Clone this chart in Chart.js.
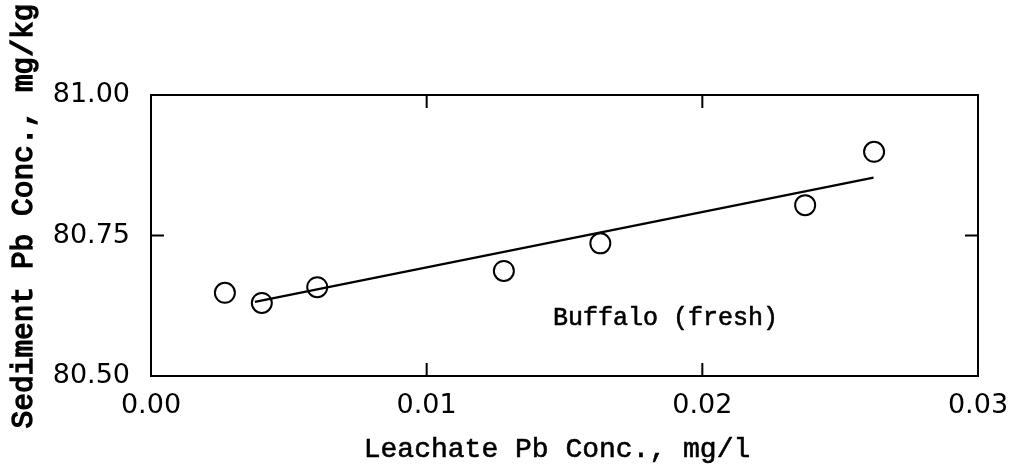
<!DOCTYPE html>
<html>
<head>
<meta charset="utf-8">
<script src="https://cdn.jsdelivr.net/npm/chart.js@4"></script>
<style>
  body { margin: 0; background: #fff; }
  canvas { display: block; }
</style>
</head>
<body>
<canvas id="pbChart" width="1013" height="466"></canvas>
<script>
//-----------------------------------------------------------------------------
// data
//-----------------------------------------------------------------------------
const leachateConc = [0.00268, 0.00402, 0.00603, 0.0128, 0.0163, 0.02373, 0.02623];   // mg/l
const sedimentConc = [80.648, 80.630, 80.658, 80.687, 80.736, 80.804, 80.899];        // mg/kg
const fitX = [0.00377, 0.02621];       // regression line ends
const fitY = [80.632, 80.853];
const xTicks = [0.00, 0.01, 0.02, 0.03];
const yTicks = [80.50, 80.75, 81.00];
const xTitle = "Leachate Pb Conc., mg/l";
const yTitle = "Sediment Pb Conc., mg/kg";
const siteLabel = "Buffalo (fresh)";

const tickFont = { family: "DejaVu Sans", size: 27 };
const monoFont = "Liberation Mono";

//-----------------------------------------------------------------------------
// text with a bit of extra weight (the scanned typewriter font is heavier)
//-----------------------------------------------------------------------------
function heavyText(ctx, txt, x, y, weight){
    ctx.fillText(txt, x, y);
    ctx.lineWidth = weight;
    ctx.strokeText(txt, x, y);
}
//-----------------------------------------------------------------------------
// frame + inward ticks + titles
//-----------------------------------------------------------------------------
const framePlugin = {
    id: "frame",
    afterDraw(chart) {
        const { ctx, chartArea: a, scales: { x, y } } = chart;
        ctx.save();
        ctx.strokeStyle = "#000";
        ctx.lineWidth = 2;
        ctx.strokeRect(a.left, a.top, a.right - a.left, a.bottom - a.top);

        const len = 13;
        ctx.beginPath();
        xTicks.slice(1, -1).forEach(v => {          // skip the ends, they sit on the frame
            const px = x.getPixelForValue(v);
            ctx.moveTo(px, a.bottom); ctx.lineTo(px, a.bottom - len);
            ctx.moveTo(px, a.top);    ctx.lineTo(px, a.top + len);
        });
        yTicks.slice(1, -1).forEach(v => {
            const py = y.getPixelForValue(v);
            ctx.moveTo(a.left, py);  ctx.lineTo(a.left + len, py);
            ctx.moveTo(a.right, py); ctx.lineTo(a.right - len, py);
        });
        ctx.stroke();

        ctx.fillStyle = "#000";
        ctx.textAlign = "center";
        ctx.textBaseline = "alphabetic";
        ctx.font = `28px "${monoFont}"`;
        heavyText(ctx, xTitle, 557, 457, 0.6);

        ctx.save();
        ctx.translate(24, 216);
        ctx.rotate(-Math.PI / 2);
        ctx.textBaseline = "middle";
        ctx.font = `29.5px "${monoFont}"`;
        heavyText(ctx, yTitle, 0, 0, 1.4);
        ctx.restore();

        ctx.textAlign = "left";
        ctx.font = `25px "${monoFont}"`;
        heavyText(ctx, siteLabel, 553, 325, 0.6);
        ctx.restore();
    }
};

//-----------------------------------------------------------------------------
new Chart(document.getElementById("pbChart"), {
    type: "scatter",
    data: {
        datasets: [
            {
                label: "measured",
                data: leachateConc.map((v, i) => ({ x: v, y: sedimentConc[i] })),
                pointStyle: "circle",
                pointRadius: 10,
                borderWidth: 2,
                borderColor: "#000",
                backgroundColor: "rgba(0,0,0,0)"
            },
            {
                label: "fit",
                type: "line",
                data: fitX.map((v, i) => ({ x: v, y: fitY[i] })),
                borderColor: "#000",
                borderWidth: 2.2,
                pointRadius: 0,
                fill: false
            }
        ]
    },
    options: {
        responsive: false,
        animation: false,
        layout: { padding: { top: 95, right: 35, left: 0, bottom: 0 } },
        plugins: {
            legend: { display: false },
            tooltip: { enabled: false }
        },
        scales: {
            x: {
                type: "linear",
                min: 0, max: 0.03,
                afterBuildTicks: s => { s.ticks = xTicks.map(v => ({ value: v })); },
                afterFit: s => { s.height = 90; s.paddingLeft = 0; s.paddingRight = 0; },
                grid: { display: false, drawTicks: false },
                border: { display: false },
                ticks: {
                    color: "#000",
                    font: tickFont,
                    padding: 14,
                    maxRotation: 0,
                    callback: v => v.toFixed(2)
                }
            },
            y: {
                type: "linear",
                min: 80.5, max: 81.0,
                afterBuildTicks: s => { s.ticks = yTicks.map(v => ({ value: v })); },
                afterFit: s => { s.width = 151; },
                grid: { display: false, drawTicks: false },
                border: { display: false },
                ticks: {
                    color: "#000",
                    font: tickFont,
                    padding: 21,
                    callback: v => v.toFixed(2)
                }
            }
        }
    },
    plugins: [framePlugin]
});
</script>
</body>
</html>
